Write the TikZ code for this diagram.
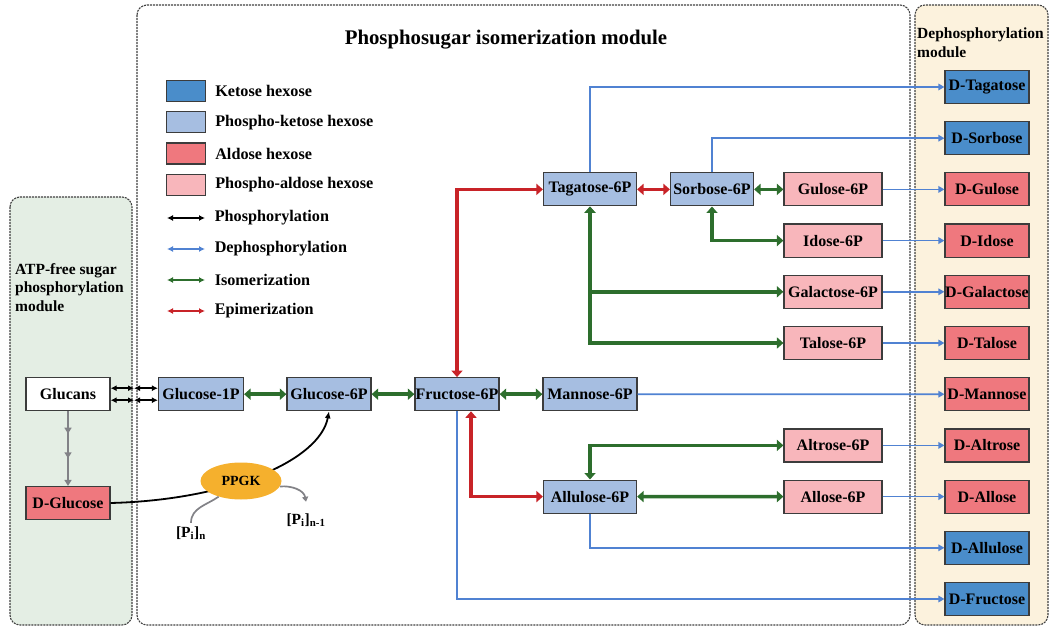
\documentclass[tikz,border=0pt]{standalone}
\usepackage{fontspec}
\setmainfont{Liberation Serif}
\usepackage{xcolor}
\usepackage{tikz}
\usetikzlibrary{arrows.meta}
\usetikzlibrary{calc}
\usetikzlibrary{positioning}
\usetikzlibrary{shapes.geometric}
\usetikzlibrary{decorations.markings}

\definecolor{ketose}{RGB}{74,141,202}
\definecolor{pketose}{RGB}{166,190,225}
\definecolor{aldose}{RGB}{239,120,126}
\definecolor{paldose}{RGB}{248,182,187}
\definecolor{boxline}{RGB}{60,60,60}
\definecolor{isogreen}{RGB}{45,110,45}
\definecolor{epired}{RGB}{200,35,40}
\definecolor{depblue}{RGB}{80,130,210}
\definecolor{hydgray}{RGB}{130,130,135}
\definecolor{atpgreen}{RGB}{228,238,228}
\definecolor{depbeige}{RGB}{252,242,221}
\definecolor{ppgkorange}{RGB}{245,176,45}

\begin{document}
\begin{tikzpicture}[
  x=1pt, y=-1pt,
  panel/.style = {draw=black!75, line width=1.1pt, dash pattern=on 2pt off 1pt,
                  rounded corners=10pt},
    box/.style = {draw=boxline, line width=1.2pt, minimum height=33pt, inner sep=0pt,
                  font=\bfseries\fontsize{16}{18}\selectfont},
     pk/.style = {box, fill=pketose},
     pa/.style = {box, fill=paldose, minimum width=98pt},
     dk/.style = {box, fill=ketose, minimum width=84pt},
     da/.style = {box, fill=aldose, minimum width=84pt},
    iso/.style = {isogreen, line width=3.5pt,
                  {Triangle[length=6.5pt,width=11pt]}-{Triangle[length=6.5pt,width=11pt]}},
    epi/.style = {epired, line width=3.5pt,
                  {Triangle[length=6.5pt,width=11pt]}-{Triangle[length=6.5pt,width=11pt]}},
    dep/.style = {depblue, line width=1.7pt, -{Triangle[length=6pt,width=6.5pt]}},
    pho/.style = {black, line width=1.5pt,
                  {Latex[length=6pt,width=6pt]}-{Latex[length=6pt,width=6pt]}},
    lab/.style = {font=\bfseries\fontsize{15.5}{18.7}\selectfont, align=left, inner sep=0pt},
    key/.style = {font=\bfseries\fontsize{16.2}{19}\selectfont, inner sep=0pt}
                   ]
\useasboundingbox (0,0) rectangle (1051,628);

% modules
\draw[panel, fill=atpgreen] (10,197) rectangle (132,625);
\draw[panel] (137,5) rectangle (910,625);
\draw[panel, fill=depbeige] (915,5) rectangle (1048,625);
\node[font=\bfseries\fontsize{20.8}{24}\selectfont] (ttl) at (506,40) {Phosphosugar isomerization module};
\node[lab, anchor=north west] (ttlatp) at (15,263) {ATP-free sugar\\phosphorylation\\module};
\node[lab, anchor=north west] (ttldep) at (917,28) {Dephosphorylation\\module};

% legend
\foreach \col/\txt [count=\j from 0] in {ketose/Ketose hexose, pketose/Phospho-ketose hexose,
    aldose/Aldose hexose, paldose/Phospho-aldose hexose}
  \node[draw=boxline, line width=1.2pt, fill=\col, minimum width=39pt, minimum height=21pt,
        label={[key, label distance=9pt]east:\txt}] (key\j) at (186, 91+31.3*\j) {};
\foreach \col/\txt [count=\j from 0] in {black/Phosphorylation, depblue/Dephosphorylation,
    isogreen/Isomerization, epired/Epimerization}
  \draw[\col, line width=1.5pt, {Latex[length=6pt,width=6pt]}-{Latex[length=6pt,width=6pt]}]
    (167, 218+31*\j) -- (205, 218+31*\j) node[key, right=9pt, black] {\txt};

% sugars
\node[box, fill=white, minimum width=84pt] (glucans) at (68,394.2) {Glucans};
\node[da] (dglc) at (68,503) {D-Glucose};
\node[pk, minimum width=85pt] (g1p) at (201,394.2) {Glucose-1P};
\node[pk, minimum width=84pt] (g6p) at (329,394.2) {Glucose-6P};
\node[pk, minimum width=84pt] (f6p) at (457,394.2) {Fructose-6P};
\node[pk, minimum width=94pt] (m6p) at (590,394.2) {Mannose-6P};
\node[pk, minimum width=93pt] (tag6p) at (590,189.4) {Tagatose-6P};
\node[pk, minimum width=83pt] (sor6p) at (712,189.4) {Sorbose-6P};
\node[pk, minimum width=93pt] (allu6p) at (590,496.6) {Allulose-6P};
\foreach \s/\j in {Gulose/2, Idose/3, Galactose/4, Talose/5, Altrose/7, Allose/8}
  \node[pa] (\s6p) at (833, 87+51.2*\j) {\s-6P};
\foreach \s/\st [count=\j from 0] in {Tagatose/dk, Sorbose/dk, Gulose/da, Idose/da,
    Galactose/da, Talose/da, Mannose/da, Altrose/da, Allose/da, Allulose/dk, Fructose/dk}
  \node[\st] (d\s) at (987, 87+51.2*\j) {D-\s};

% phosphorylation
\coordinate (gsplit) at (134,394.2);
\foreach \dy in {6,-6} {
  \draw[pho] ([yshift=\dy pt]glucans.east) -- ([yshift=\dy pt]gsplit);
  \draw[pho] ([yshift=\dy pt]gsplit) -- ([yshift=\dy pt]g1p.west);
}
\draw[hydgray, line width=1.8pt, -{Triangle[length=6pt,width=7pt]}, postaction={decorate},
  decoration={markings,
    mark=at position 0.3 with {\arrow{Triangle[length=6pt,width=7pt]}},
    mark=at position 0.63 with {\arrow{Triangle[length=6pt,width=7pt]}}}]
  (glucans) -- (dglc);
\draw[black, line width=1.8pt, -{Latex[length=7pt,width=6pt]}]
  (dglc.east) .. controls (230,500) and (320,460) .. (g6p.south);
\node[ellipse, fill=ppgkorange, minimum width=81pt, minimum height=37pt, inner sep=0pt,
      font=\bfseries\fontsize{14}{16}\selectfont] (ppgk) at (241,481) {PPGK};
\node[font=\bfseries\fontsize{15.5}{17}\selectfont] (pin) at (191,533)
  {[P\textsubscript{i}]\textsubscript{n}};
\node[font=\bfseries\fontsize{15.5}{17}\selectfont] (pout) at (306,520)
  {[P\textsubscript{i}]\textsubscript{n-1}};
\draw[hydgray, line width=1.7pt] (pin.north) to[out=90, in=215] (ppgk.215);
\draw[hydgray, line width=1.7pt, -{Triangle[length=5pt,width=6pt]}]
  (ppgk.-8) to[out=5, in=100] ([yshift=8pt]pout.north);

% isomerization
\draw[iso] (g1p) -- (g6p);
\draw[iso] (g6p) -- (f6p);
\draw[iso] (f6p) -- (m6p);
\draw[iso] (sor6p) -- (Gulose6p);
\draw[iso] (sor6p.south) |- (Idose6p.west);
\draw[iso] (tag6p.south) |- (Galactose6p.west);
\draw[iso] (tag6p.south) |- (Talose6p.west);
\draw[iso] (allu6p.north) |- (Altrose6p.west);
\draw[iso] (allu6p) -- (Allose6p);

% epimerization
\draw[epi] (f6p.north) |- (tag6p.west);
\draw[epi] ([xshift=14pt]f6p.south) |- (allu6p.west);
\draw[epi] (tag6p) -- (sor6p);

% dephosphorylation
\draw[dep] (tag6p.north) |- (dTagatose.west);
\draw[dep] (sor6p.north) |- (dSorbose.west);
\foreach \s in {Gulose, Idose, Galactose, Talose, Altrose, Allose}
  \draw[dep] (\s6p) -- (d\s);
\draw[dep] (m6p) -- (dMannose);
\draw[dep] (allu6p.south) |- (dAllulose.west);
\draw[dep] (f6p.south) |- (dFructose.west);
\end{tikzpicture}
\end{document}
